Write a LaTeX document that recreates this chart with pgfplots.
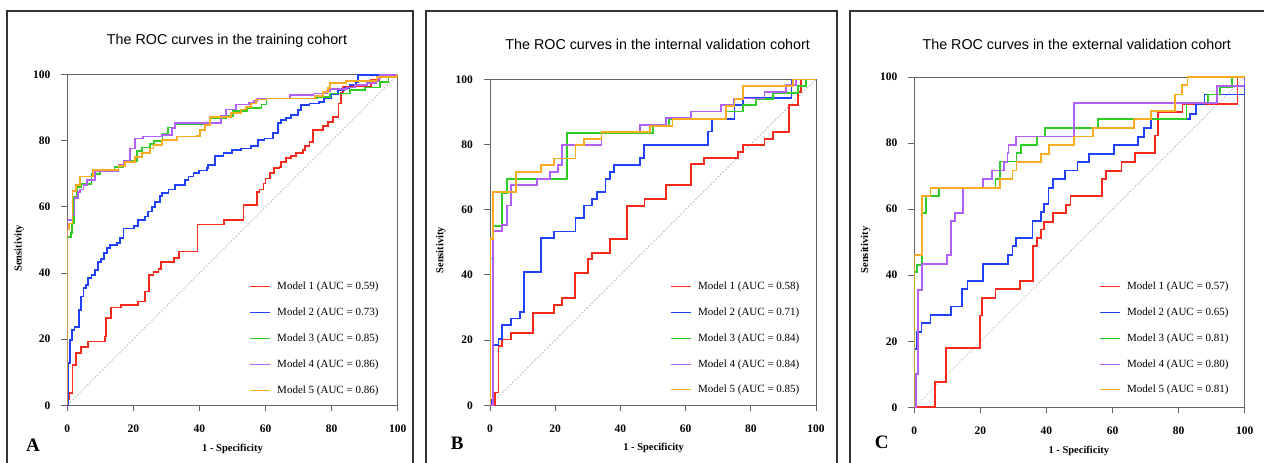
\documentclass[border=0pt]{standalone}
\usepackage{fontspec}
\setmainfont{Liberation Serif}
\newfontfamily\titlefont{Liberation Sans}
\usepackage{pgfplots}
\pgfplotsset{compat=1.18}

\definecolor{m1}{RGB}{246,42,30}
\definecolor{m2}{RGB}{32,64,250}
\definecolor{m3}{RGB}{48,204,40}
\definecolor{m4}{RGB}{178,96,250}
\definecolor{m5}{RGB}{250,172,32}
\definecolor{axgray}{RGB}{100,100,100}

\pgfplotsset{
  roc/.style={const plot, line width=1.8pt, color=#1},
  rocpanel/.style={
    scale only axis,
    xmin=0, xmax=100, ymin=0, ymax=100,
    xtick={0,20,...,100}, ytick={0,20,...,100},
    tick align=outside, xtick pos=bottom, ytick pos=left,
    axis line style={axgray, line width=0.9pt},
    tick style={axgray, line width=0.9pt},
    major tick length=6pt,
    ytick style={shorten >=-7pt},
    /pgf/number format/assume math mode=true,
    ticklabel style={font=\bfseries\fontsize{11.5}{13}\selectfont},
    yticklabel style={xshift=-7.5pt},
    xticklabel style={yshift=-10pt},
    xlabel={1 - Specificity}, ylabel={Sensitivity},
    label style={font=\bfseries\fontsize{10.5}{12}\selectfont, anchor=center},
    legend cell align=left,
    legend style={draw=none, fill=none, inner sep=0pt, anchor=north west,
      font=\fontsize{11}{13}\selectfont, row sep=14.7pt,
      nodes={inner sep=1pt},
      /tikz/every odd column/.append style={column sep=6pt}},
    legend image code/.code={\draw[#1, line width=1pt] (0pt,0pt) -- (20pt,0pt);},
  },
}

\begin{document}
\begin{tikzpicture}[x=1pt, y=1pt]
\useasboundingbox (0,0) rectangle (1264,463);

% panel frames
\draw[black!80, line width=1.2pt] (7,-10) -- (7,452) -- (413,452) -- (413,-10);
\draw[black!80, line width=1.2pt] (426,-10) -- (426,452) -- (837,452) -- (837,-10);
\draw[black!80, line width=1.2pt] (850,-10) -- (850,452) -- (1270,452);

\node[font=\titlefont\fontsize{14.3}{16}\selectfont] at (227,422) {The ROC curves in the training cohort};
\node[font=\titlefont\fontsize{14.3}{16}\selectfont] at (657.7,419) {The ROC curves in the internal validation cohort};
\node[font=\titlefont\fontsize{14.3}{16}\selectfont] at (1076.8,419) {The ROC curves in the external validation cohort};

\node[font=\bfseries\fontsize{19}{21}\selectfont] at (33,18) {A};
\node[font=\bfseries\fontsize{19}{21}\selectfont] at (457.3,19.7) {B};
\node[font=\bfseries\fontsize{19}{21}\selectfont] at (881.7,20.3) {C};

%% A: training cohort
\begin{axis}[rocpanel, at={(67.3pt,57.7pt)}, anchor=south west,
  width=330.4pt, height=330.6pt,
  xlabel style={at={(axis description cs:0.5,-0.132)}},
  ylabel style={at={(axis description cs:-0.146,0.475)}},
  legend style={at={(axis description cs:0.550,0.376)}}]
\addplot[gray!70, line width=0.5pt, dash pattern=on 2pt off 1.5pt, forget plot] coordinates {(0,0)(100,100)};
\addplot[roc=m1] coordinates {
 (0,0)(0.3,2)(0.6,3.6)(1.6,12.2)(2.6,15.7)(4.2,17.7)(6.3,19.3)(11.3,20.8)(11.8,26.3)
 (13.3,29.6)(16.3,30.3)(21.4,31.4)(23.6,34.4)(24.8,39.4)(26.1,40.4)(27.6,41.2)(28.4,43.4)
 (32.2,44.5)(33.7,46.5)(39.4,54.7)(47.5,56.0)(53.3,60.6)(57.5,64.6)(58.2,65.3)(59.4,67.1)
 (60.0,68.6)(61.4,70.2)(62.5,71.7)(64.2,72.2)(64.7,73.7)(66.3,74.7)(67.6,75.4)(69.3,76.2)
 (71.3,77.2)(72.0,78.4)(73.3,79.7)(74.3,83.3)(77.3,84.5)(78.9,85.8)(80.4,87.3)(82.1,91.3)
 (82.9,94.4)(83.4,96.4)(92,98.4)(94.5,99.4)(97,100)(100,100)};
\addlegendentry{Model 1 (AUC = 0.59)}
\addplot[roc=m2] coordinates {
 (0,0)(0.2,12.7)(0.9,19.8)(1.4,22.8)(2.2,23.8)(3.6,28.8)(4.2,32.9)(4.9,35.4)(5.6,36.4)
 (6.3,38.4)(7.3,39.4)(8.5,40.9)(9.3,43.4)(10.3,44.2)(11.0,46.0)(12.0,47.5)(13.0,48.5)
 (15.0,49.2)(16.0,50.5)(17.0,53.5)(20.1,54.2)(21.4,56.0)(23.6,57.1)(24.4,58.6)(25.6,60.1)
 (26.6,61.6)(28.1,63.3)(28.6,64.3)(30.6,65.3)(32.7,66.6)(35.7,68.1)(36.7,69.2)(38.2,70.2)
 (39.9,71.0)(42.2,71.7)(42.7,72.7)(44.8,75.4)(47.3,76.2)(49.8,77.2)(52.6,77.7)(55.5,78.4)
 (57.7,80.2)(59.7,80.7)(62.2,82.3)(63.7,85.3)(64.7,86.3)(66.3,86.8)(67.8,87.8)(69.8,89.3)
 (70.8,90.8)(73.3,91.3)(76.3,91.8)(77.8,92.8)(79.9,94.2)(81.9,95.4)(83.9,95.9)(85.4,96.9)
 (87.4,97.9)(87.9,100)(100,100)};
\addlegendentry{Model 2 (AUC = 0.73)}
\addplot[roc=m3] coordinates {
 (0,0)(0,51)(1.2,52)(1.5,55)(2.0,63)(3.0,66)(4.3,67)(7.3,70)(9.8,71)(14.3,72)(17,73.5)
 (19.5,74)(21,77)(22.5,78)(25,79)(26.3,80)(28.8,82)(30.5,84)(32.6,85)(43.2,87)(48.2,87.5)
 (50.2,89)(54.3,90)(58.8,91)(60.3,92.8)(75.5,93.2)(79.5,94.3)(85.6,95.4)(90.1,96.1)
 (94.7,97.9)(97.2,99.4)(99.5,100)(100,100)};
\addlegendentry{Model 3 (AUC = 0.85)}
\addplot[roc=m4] coordinates {
 (0,0)(0,56)(1.6,57.6)(2.2,62.6)(3.2,64.6)(3.9,65.3)(4.9,66.6)(5.9,68.1)(8.3,69.4)
 (8.5,70.7)(15.5,72.7)(17,74)(19.0,77.7)(20.4,80.7)(23,81.3)(28.6,81.8)(31.7,83.8)
 (32.7,85.3)(45,85.5)(46.5,87.5)(48,89.5)(51,91)(55,91.5)(56.5,92)(57.5,92.8)(67.4,93.8)
 (74.5,94.3)(78.5,95)(79.5,95.6)(84.6,96.1)(87.1,96.9)(90.6,97.4)(93.6,98.2)(94.2,99)
 (94.7,100)(100,100)};
\addlegendentry{Model 4 (AUC = 0.86)}
\addplot[roc=m5] coordinates {
 (0,0)(0,53.2)(0.6,55)(1.6,64.9)(2.6,66.6)(3.9,69.2)(7.7,71.2)(15.5,72.5)(17.5,73.5)
 (20.4,75.0)(22.6,76.2)(25.1,77.7)(26.1,78.7)(28.6,80.2)(33.2,81.3)(39.2,81.5)(40.2,83.3)
 (41.7,84.8)(43.2,87.3)(49.6,88.3)(52.6,89.5)(54.2,90.3)(55.7,91.3)(57,92.5)(60.3,92.8)
 (75,93.5)(77.5,94.7)(79.0,95.9)(79.5,97.4)(84.4,98.2)(93.6,99.4)(99.7,100)(100,100)};
\addlegendentry{Model 5 (AUC = 0.86)}
\end{axis}

%% B: internal validation cohort
\begin{axis}[rocpanel, at={(490pt,57.7pt)}, anchor=south west,
  width=326pt, height=326pt,
  xlabel style={at={(axis description cs:0.502,-0.131)}},
  ylabel style={at={(axis description cs:-0.151,0.476)}},
  legend style={at={(axis description cs:0.552,0.382)}}]
\addplot[gray!70, line width=0.5pt, dash pattern=on 2pt off 1.5pt, forget plot] coordinates {(0,0)(100,100)};
\addplot[roc=m1] coordinates {
 (0,0)(1.5,3.9)(2.6,18.2)(3.8,20.2)(6.4,22.3)(13.1,28.4)(19.6,30.7)(22.2,32.8)(26.0,40.7)
 (30.1,44.8)(31.3,46.8)(36.7,50.9)(42.1,61.1)(47.4,63.2)(53.9,67.5)(61.7,73.9)(65.6,75.8)
 (76.0,77.8)(77.6,79.9)(84.2,81.8)(86.7,83.8)(91.8,92.0)(94.4,96.0)(95.5,100)(100,100)};
\addlegendentry{Model 1 (AUC = 0.58)}
\addplot[roc=m2] coordinates {
 (0,0)(0.3,1.8)(1.0,18.4)(2.6,20.4)(3.8,24.6)(6.4,26.6)(9.2,28.6)(10.5,40.9)(15.6,51.2)
 (19.7,53.3)(26.2,57.4)(28.9,61.3)(31.4,63.4)(32.9,65.5)(35.4,69.5)(36.7,71.6)(38.1,73.6)
 (46.0,75.8)(47.2,79.9)(66.8,84.0)(68.2,87.7)(75.0,92.1)(77.6,94.2)(92.5,100)(100,100)};
\addlegendentry{Model 2 (AUC = 0.71)}
\addplot[roc=m3] coordinates {
 (0,0)(0,45)(1.0,55.1)(3.8,65)(5.1,69.4)(23.7,83.6)(50.1,85.7)(55.0,87.7)(72.4,90.1)
 (77.6,92.1)(81.6,93.9)(86.7,95.9)(94.4,98)(96.9,100)(100,100)};
\addlegendentry{Model 3 (AUC = 0.84)}
\addplot[roc=m4] coordinates {
 (0,0)(1.0,53.5)(3.8,55.3)(5.1,61.3)(6.4,67.5)(14.3,69.5)(18.4,71.6)(20.9,73.7)(22.2,79.8)
 (34.2,83.8)(46.1,85.9)(53.9,88.2)(61.7,90.1)(70.9,92.1)(74.8,94.1)(84.2,96.1)(90.8,98.2)
 (93.9,100)(100,100)};
\addlegendentry{Model 4 (AUC = 0.84)}
\addplot[roc=m5] coordinates {
 (0,0)(0,51.1)(1.0,65.4)(7.9,71.6)(15.6,73.7)(19.6,75.7)(26.2,79.8)(28.9,81.8)(34.2,83.8)
 (49,85.7)(56,87.7)(72.4,91.8)(75,93.9)(77.6,98)(93,100)(100,100)};
\addlegendentry{Model 5 (AUC = 0.85)}
\end{axis}

%% C: external validation cohort
\begin{axis}[rocpanel, at={(914.3pt,55.7pt)}, anchor=south west,
  width=330.4pt, height=330.3pt,
  xlabel style={at={(axis description cs:0.498,-0.131)}},
  ylabel style={at={(axis description cs:-0.147,0.476)}},
  legend style={at={(axis description cs:0.559,0.383)}}]
\addplot[gray!70, line width=0.5pt, dash pattern=on 2pt off 1.5pt, forget plot] coordinates {(0,0)(100,100)};
\addplot[roc=m1] coordinates {
 (0,0)(6.2,7.6)(9.7,17.9)(19.8,27.8)(20.6,33.0)(24.6,35.7)(32.0,38.3)(36.0,48.8)(37.1,51.3)
 (38.3,53.8)(39.3,56.1)(42.0,58.8)(46.0,61.3)(47.3,63.9)(56.7,69.0)(57.9,71.6)(62.7,74.2)
 (66.8,77.0)(72.8,82.3)(73.8,89.4)(81.2,91.9)(97.8,100)(100,100)};
\addlegendentry{Model 1 (AUC = 0.57)}
\addplot[roc=m2] coordinates {
 (0,0)(0,17.7)(0.9,22.7)(2.2,25.6)(4.9,28.0)(11.0,30.5)(14.5,35.7)(16.1,38.2)(20.8,43.4)
 (28.4,46.2)(29.7,48.8)(30.7,51.3)(35.8,56.3)(38.3,59.1)(39.3,61.6)(40.6,66.4)(42.0,69.2)
 (45.7,71.7)(49.4,74.2)(52.8,76.8)(60.5,79.5)(67.8,81.8)(69.4,84.5)(71.7,87.4)(83.4,88.9)
 (85.2,91.7)(87.8,94.7)(100,100)};
\addlegendentry{Model 2 (AUC = 0.65)}
\addplot[roc=m3] coordinates {
 (0,0)(0,40.9)(0.9,43.1)(2.4,58.8)(3.6,63.9)(7.5,66.4)(24.6,69.0)(25.9,74.4)(30.9,77.0)
 (32.2,79.5)(37.1,82.0)(39.6,84.5)(55.5,87.2)(82.4,92.0)(89.0,94.7)(92.5,97.0)(96.1,100)
 (100,100)};
\addlegendentry{Model 3 (AUC = 0.81)}
\addplot[roc=m4] coordinates {
 (0,0)(0.4,10.1)(1.2,35.6)(2.4,43.4)(9.8,46.2)(11.0,56.3)(12.3,58.9)(14.8,66.4)(20.8,69.0)
 (23.4,71.7)(27.2,74.2)(28.2,77.0)(28.5,79.5)(30.7,82.0)(48.4,92.2)(91.5,97.2)(100,100)};
\addlegendentry{Model 4 (AUC = 0.80)}
\addplot[roc=m5] coordinates {
 (0,0)(0,46.0)(2.4,63.9)(4.9,66.4)(25.9,69.0)(29.7,71.7)(30.9,74.2)(38.3,76.8)(40.8,79.5)
 (48.4,82.0)(54.1,84.5)(66.6,87.2)(71.6,89.6)(78.9,94.7)(81.1,97.5)(82.7,100)(100,100)};
\addlegendentry{Model 5 (AUC = 0.81)}
\end{axis}
\end{tikzpicture}
\end{document}
